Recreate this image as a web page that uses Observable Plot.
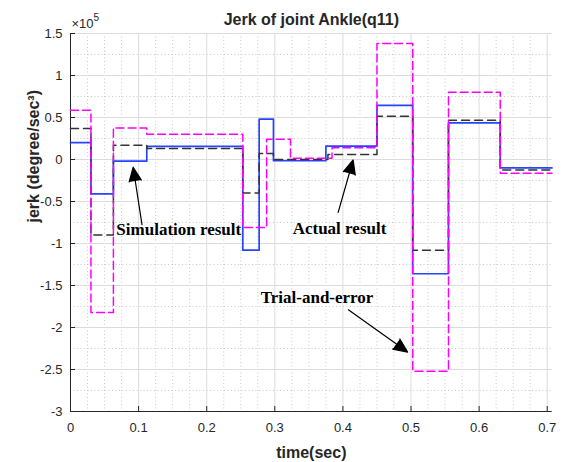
<!DOCTYPE html>
<html>
<head>
<meta charset="utf-8">
<script src="https://cdn.jsdelivr.net/npm/d3@7"></script>
<script src="https://cdn.jsdelivr.net/npm/@observablehq/plot@0.6"></script>
<style>
  html, body { margin: 0; padding: 0; background: #fff; }
  #chart svg { display: block; }
</style>
</head>
<body>
<div id="chart"></div>
<script>
// ---- Data (jerk values in units of 1e5 degree/sec^3) ----
const simTime   = [0, 0.03, 0.063, 0.112, 0.253, 0.277, 0.298, 0.375, 0.45, 0.5025, 0.555, 0.631, 0.707];
const simJerk   = [0.2, -0.41, -0.02, 0.156, -1.08, 0.48, -0.015, 0.16, 0.645, -1.36, 0.435, -0.1, -0.1];

const actTime   = [0, 0.03, 0.063, 0.112, 0.253, 0.277, 0.298, 0.378, 0.45, 0.5025, 0.555, 0.631, 0.707];
const actJerk   = [0.37, -0.9, 0.17, 0.13, -0.4, 0.07, 0.0, 0.06, 0.515, -1.08, 0.467, -0.125, -0.125];

const trialTime = [0, 0.03, 0.063, 0.112, 0.253, 0.288, 0.323, 0.384, 0.45, 0.5025, 0.555, 0.631, 0.707];
const trialJerk = [0.585, -1.82, 0.376, 0.30, -0.81, 0.24, 0.015, 0.14, 1.38, -2.52, 0.8, -0.165, -0.165];

// ---- Ticks ----
const xTicks = [0, 0.1, 0.2, 0.3, 0.4, 0.5, 0.6, 0.7];
const xTickLabels = ["0", "0.1", "0.2", "0.3", "0.4", "0.5", "0.6", "0.7"];
const xMinorTicks = [0.025, 0.05, 0.075, 0.125, 0.15, 0.175, 0.225, 0.25, 0.275, 0.325, 0.35, 0.375,
                     0.425, 0.45, 0.475, 0.525, 0.55, 0.575, 0.625, 0.65, 0.675];
const yTicks = [-3, -2.5, -2, -1.5, -1, -0.5, 0, 0.5, 1, 1.5];
const yTickLabels = ["-3", "-2.5", "-2", "-1.5", "-1", "-0.5", "0", "0.5", "1", "1.5"];
const yMinorTicks = [-2.75, -2.25, -1.75, -1.25, -0.75, -0.25, 0.25, 0.75, 1.25];

// ---- Annotations ----
const noteText = ["Simulation result", "Actual result", "Trial-and-error"];
const noteX = [0.159, 0.395, 0.362];
const noteY = [-0.834, -0.822, -1.643];
const arrowFromX = [0.105, 0.393, 0.408];
const arrowFromY = [-0.775, -0.63, -1.79];
const arrowToX = [0.092, 0.415, 0.495];
const arrowToY = [-0.092, -0.006, -2.293];

const toRows = (ts, vs) => ts.map((t, i) => ({t, v: vs[i]}));
const sim = toRows(simTime, simJerk);
const act = toRows(actTime, actJerk);
const trial = toRows(trialTime, trialJerk);
const notes = noteText.map((s, i) => ({s, x: noteX[i], y: noteY[i]}));
const arrows = arrowFromX.map((x1, i) => ({x1, y1: arrowFromY[i], x2: arrowToX[i], y2: arrowToY[i]}));

const sans = "'Liberation Sans', Arial, Helvetica, sans-serif";
const serif = "'Liberation Serif', 'Times New Roman', serif";
const axisColor = "#262626";

const chart = Plot.plot({
  width: 566,
  height: 462,
  marginLeft: 70,
  marginRight: 14.3,
  marginTop: 33,
  marginBottom: 51,
  style: {fontFamily: sans, background: "#fff", overflow: "visible"},
  x: {domain: [0, 0.7073]},
  y: {domain: [-3, 1.5]},
  marks: [
    // grid
    Plot.gridX(xMinorTicks, {stroke: "#b8b8b8", strokeOpacity: 0.75, strokeDasharray: "1,2.5"}),
    Plot.gridY(yMinorTicks, {stroke: "#b8b8b8", strokeOpacity: 0.75, strokeDasharray: "1,2.5"}),
    Plot.gridX(xTicks.slice(1), {stroke: "#dcdcdc", strokeOpacity: 1}),
    Plot.gridY(yTicks.slice(1), {stroke: "#dcdcdc", strokeOpacity: 1}),
    // axes
    Plot.axisX(xTicks, {tickSize: -5, tickPadding: 16, fontSize: 13, color: axisColor,
      tickFormat: (d, i) => xTickLabels[i], label: null}),
    Plot.axisY(yTicks, {tickSize: -5, tickPadding: 13, fontSize: 13, color: axisColor,
      tickFormat: (d, i) => yTickLabels[i], label: null}),
    Plot.ruleX([0], {stroke: axisColor}),
    Plot.ruleY([-3], {stroke: axisColor}),
    // series
    Plot.line(sim, {x: "t", y: "v", curve: "step-after", stroke: "#1030ff", strokeWidth: 1.7, strokeOpacity: 0.9}),
    Plot.line(act, {x: "t", y: "v", curve: "step-after", stroke: "#333333", strokeWidth: 1.5, strokeDasharray: "8,5"}),
    Plot.line(trial, {x: "t", y: "v", curve: "step-after", stroke: "#ff00ff", strokeWidth: 1.5, strokeDasharray: "8,4"}),
    // annotations
    Plot.arrow(arrows, {x1: "x1", y1: "y1", x2: "x2", y2: "y2", stroke: "black", fill: "black",
      strokeWidth: 1.2, headLength: 19, headAngle: 48}),
    Plot.text(notes, {x: "x", y: "y", text: "s", fontFamily: serif, fontWeight: "bold", fontSize: 17, fill: "black"}),
    // titles
    Plot.text(["Jerk of joint Ankle(q11)"], {frameAnchor: "top", lineAnchor: "bottom", dy: -9,
      fontSize: 16, fontWeight: "bold", fill: axisColor}),
    Plot.text(["×10"], {frameAnchor: "top-left", textAnchor: "start", lineAnchor: "bottom", dx: 1, dy: -6,
      fontSize: 13, fill: axisColor}),
    Plot.text(["5"], {frameAnchor: "top-left", textAnchor: "start", lineAnchor: "bottom", dx: 23, dy: -13,
      fontSize: 10, fill: axisColor}),
    Plot.text(["time(sec)"], {frameAnchor: "bottom", lineAnchor: "bottom", dy: 46,
      fontSize: 16, fontWeight: "bold", fill: axisColor}),
    Plot.text(["jerk (degree/sec³)"], {frameAnchor: "left", rotate: -90, dx: -37,
      fontSize: 16, fontWeight: "bold", fill: axisColor})
  ]
});

document.getElementById("chart").appendChild(chart);
</script>
</body>
</html>
